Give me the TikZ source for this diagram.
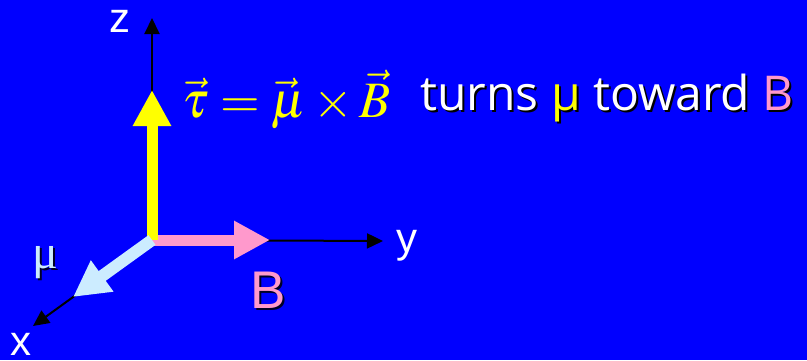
\documentclass[tikz,border=0pt]{standalone}
\usepackage{mathptmx}
\usepackage{fontspec}
\setsansfont{Liberation Sans}
\newfontfamily\comicfont{Open Sans}
\newfontfamily\greekfont{Liberation Serif}
\usetikzlibrary{arrows.meta,positioning}
\definecolor{slideblue}{RGB}{0,0,255}
\definecolor{torqueyellow}{RGB}{255,255,0}
\definecolor{fieldpink}{RGB}{255,153,204}
\definecolor{momentblue}{RGB}{204,236,255}
\newcommand\turnsline[3]{{\color{#1}turns} {\color{#2}μ} {\color{#1}toward} {\color{#3}B}}

\begin{document}
\begin{tikzpicture}[x=1pt,y=-1pt]
    % Styles for axes and vectors
    \tikzset{
        axis/.style={line width=2pt,black,-{Triangle[length=16pt,width=15pt]}},
        vecarrow/.style={line width=11pt,-{Triangle[length=36pt,width=36pt]}},
        axislabel/.style={white,anchor=base,font=\sffamily\fontsize{42}{46}\selectfont},
        shadowed/.style={black,opacity=0.85}
    }
    % Background
    \fill[slideblue] (0,0) rectangle (807,360);
    \useasboundingbox (0,0) rectangle (807,360);
    % Origin and axis ends
    \coordinate (O) at (152,240);
    \coordinate (zend) at (152,18);
    \coordinate (yend) at (383,241);
    \coordinate (xend) at (33,326);
    % Vector ends
    \coordinate (tauend) at (152,90);
    \coordinate (Bend) at (270,240);
    \coordinate (muend) at (73,297);
    % Axes
    \draw[axis] (O) -- (zend);
    \draw[axis] (O) -- (yend);
    \draw[axis] (O) -- (xend);
    % Vectors
    \draw[vecarrow,fieldpink] (O) -- (Bend);
    \draw[vecarrow,torqueyellow] (O) -- (tauend);
    \draw[vecarrow,momentblue,line width=12pt] (O) -- (muend);
    % Axis labels
    \node[axislabel] (zlabel) at (120,32) {z};
    \node[axislabel] (ylabel) at (407,252) {y};
    \node[axislabel] (xlabel) at (21,355) {x};
    % Vector labels (with shadow)
    \node[shadowed,anchor=base,font=\greekfont\fontsize{48}{52}\selectfont] (mushadow) at (47,270) {μ};
    \node[momentblue,anchor=base,font=\greekfont\fontsize{48}{52}\selectfont] (mulabel) at (45,268) {μ};
    \node[shadowed,anchor=base,font=\sffamily\fontsize{53}{58}\selectfont] (Bshadow) at (270,310) {B};
    \node[fieldpink,anchor=base,font=\sffamily\fontsize{53}{58}\selectfont] (Blabel) at (268,308) {B};
    % Equation and remark
    \node[torqueyellow,anchor=base west,inner sep=0pt,font=\fontsize{51}{56}\selectfont] (equation) at (182,117) {$\vec{\tau}=\vec{\mu}\times\vec{B}$};
    \node[anchor=base west,inner sep=0pt,font=\comicfont\fontsize{48}{52}\selectfont] (remarkshadow) at (422,112) {\turnsline{black}{black}{black}};
    \node[anchor=base west,inner sep=0pt,font=\comicfont\fontsize{48}{52}\selectfont] (remark) at (420,110) {\turnsline{white}{torqueyellow}{fieldpink}};
\end{tikzpicture}
\end{document}
